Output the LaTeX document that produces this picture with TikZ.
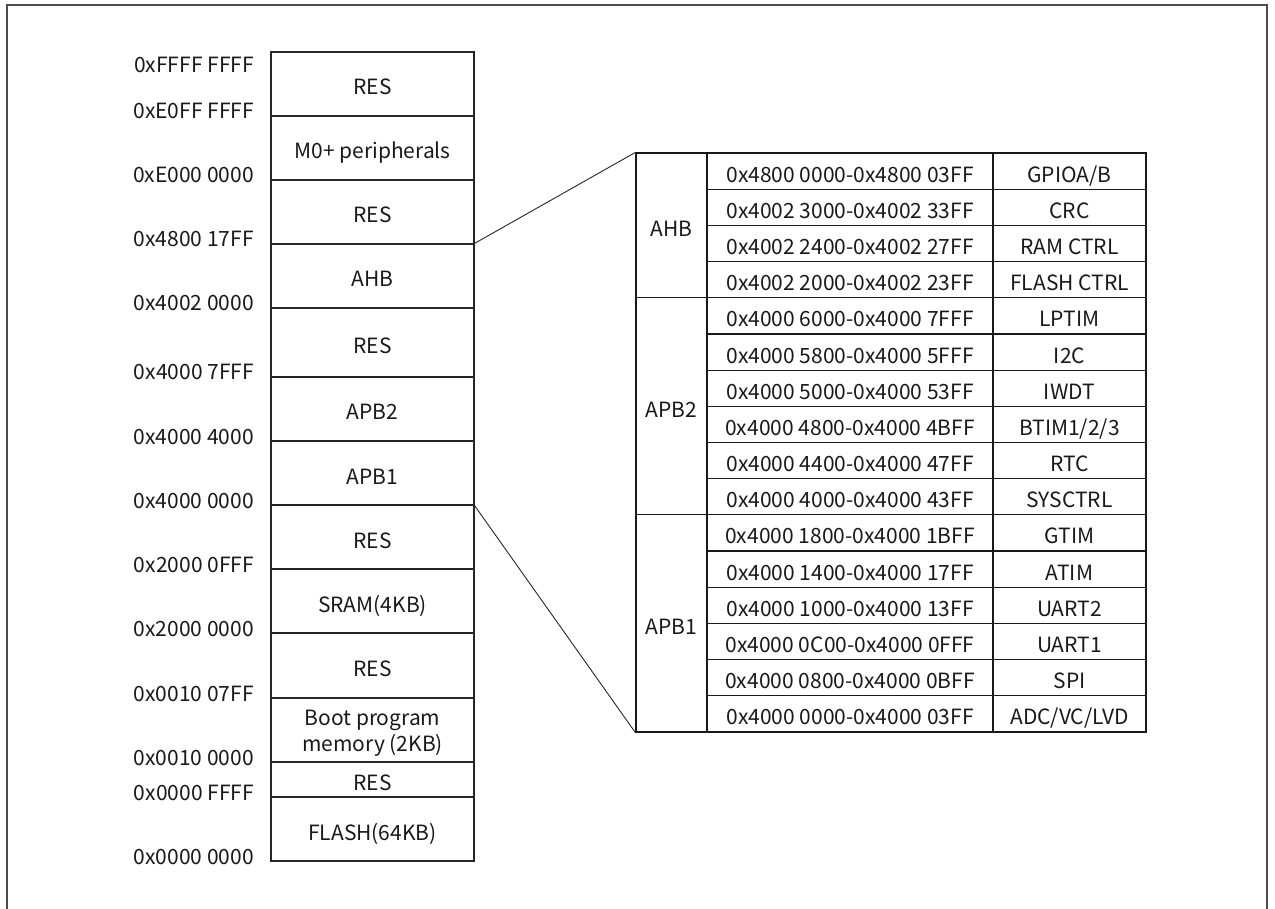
\documentclass[tikz,border=0pt]{standalone}
\usepackage{fontspec}
\setmainfont{Noto Sans CJK SC}
\begin{document}
\begin{tikzpicture}[x=1pt,y=-1pt,
  every node/.style={font=\fontsize{21}{26}\selectfont, text=black!90, inner sep=0pt},
  txtpos/.style={text height=22pt, text depth=0pt},
  memrow/.style={draw=black!85, line width=1.2pt, minimum width=203pt, txtpos},
  addrlbl/.style={anchor=east, txtpos},
  cell/.style={draw=black!90, line width=1.2pt, txtpos},
  zoomline/.style={draw=black!85, line width=0.9pt},
  framestyle/.style={draw=black!70, line width=1.5pt}]
\useasboundingbox (0,0) rectangle (1275,909);
\draw[framestyle] (7,915) -- (7,5) -- (1267,5) -- (1267,915);

% memory map column
\node[memrow, minimum height=64pt] (r1) at (372.5,84) {RES};
\node[memrow, minimum height=64pt] (r2) at (372.5,148) {M0+ peripherals};
\node[memrow, minimum height=64pt] (r3) at (372.5,212) {RES};
\node[memrow, minimum height=64pt] (r4) at (372.5,276) {AHB};
\node[memrow, minimum height=69pt] (r5) at (372.5,342.5) {RES};
\node[memrow, minimum height=64pt] (r6) at (372.5,409) {APB2};
\node[memrow, minimum height=64pt] (r7) at (372.5,473) {APB1};
\node[memrow, minimum height=64pt] (r8) at (372.5,537) {RES};
\node[memrow, minimum height=64pt] (r9) at (372.5,601) {SRAM(4KB)};
\node[memrow, minimum height=65pt] (r10) at (372.5,665.5) {RES};
\node[draw=black!85, line width=1.2pt, minimum width=203pt, minimum height=64pt] (r11) at (372.5,730) {};
\node[anchor=base, align=center] (r11t) at (372.5,751) {Boot program\\memory (2KB)};
\node[memrow, minimum height=35pt] (r12) at (372.5,779.5) {RES};
\node[memrow, minimum height=64pt] (r13) at (372.5,829) {FLASH(64KB)};

% address labels
\node[addrlbl] (l0) at (254,62) {0xFFFF FFFF};
\node[addrlbl] (l1) at (254,108) {0xE0FF FFFF};
\node[addrlbl] (l2) at (254,172) {0xE000 0000};
\node[addrlbl] (l3) at (254,236) {0x4800 17FF};
\node[addrlbl] (l4) at (254,300) {0x4002 0000};
\node[addrlbl] (l5) at (254,369) {0x4000 7FFF};
\node[addrlbl] (l6) at (254,433) {0x4000 4000};
\node[addrlbl] (l7) at (254,497) {0x4000 0000};
\node[addrlbl] (l8) at (254,561) {0x2000 0FFF};
\node[addrlbl] (l9) at (254,625) {0x2000 0000};
\node[addrlbl] (l10) at (254,690) {0x0010 07FF};
\node[addrlbl] (l11) at (254,754) {0x0010 0000};
\node[addrlbl] (l12) at (254,789) {0x0000 FFFF};
\node[addrlbl] (l13) at (254,853) {0x0000 0000};

% bus blocks in detail table
\node[cell, minimum width=71pt, minimum height=144.75pt] (ahb) at (671.5,225.375) {AHB};
\node[cell, minimum width=71pt, minimum height=217.125pt] (apbtwo) at (671.5,406.3125) {APB2};
\node[cell, minimum width=71pt, minimum height=217.125pt] (apbone) at (671.5,623.4375) {APB1};

% detail rows
\foreach \i/\ad/\nm in {
  1/{0x4800 0000-0x4800 03FF}/{GPIOA/B},
  2/{0x4002 3000-0x4002 33FF}/{CRC},
  3/{0x4002 2400-0x4002 27FF}/{RAM CTRL},
  4/{0x4002 2000-0x4002 23FF}/{FLASH CTRL},
  5/{0x4000 6000-0x4000 7FFF}/{LPTIM},
  6/{0x4000 5800-0x4000 5FFF}/{I2C},
  7/{0x4000 5000-0x4000 53FF}/{IWDT},
  8/{0x4000 4800-0x4000 4BFF}/{BTIM1/2/3},
  9/{0x4000 4400-0x4000 47FF}/{RTC},
  10/{0x4000 4000-0x4000 43FF}/{SYSCTRL},
  11/{0x4000 1800-0x4000 1BFF}/{GTIM},
  12/{0x4000 1400-0x4000 17FF}/{ATIM},
  13/{0x4000 1000-0x4000 13FF}/{UART2},
  14/{0x4000 0C00-0x4000 0FFF}/{UART1},
  15/{0x4000 0800-0x4000 0BFF}/{SPI},
  16/{0x4000 0000-0x4000 03FF}/{ADC/VC/LVD}}{
  \pgfmathsetmacro{\yy}{153+(\i-0.5)*36.1875}
  \node[cell, minimum width=286pt, minimum height=36.1875pt] (addr\i) at (850,\yy) {\ad};
  \node[cell, minimum width=153pt, minimum height=36.1875pt] (name\i) at (1069.5,\yy) {\nm};
}

% zoom connectors
\draw[zoomline] (r4.north east) -- (ahb.north west);
\draw[zoomline] (r7.south east) -- (apbone.south west);
\end{tikzpicture}
\end{document}
